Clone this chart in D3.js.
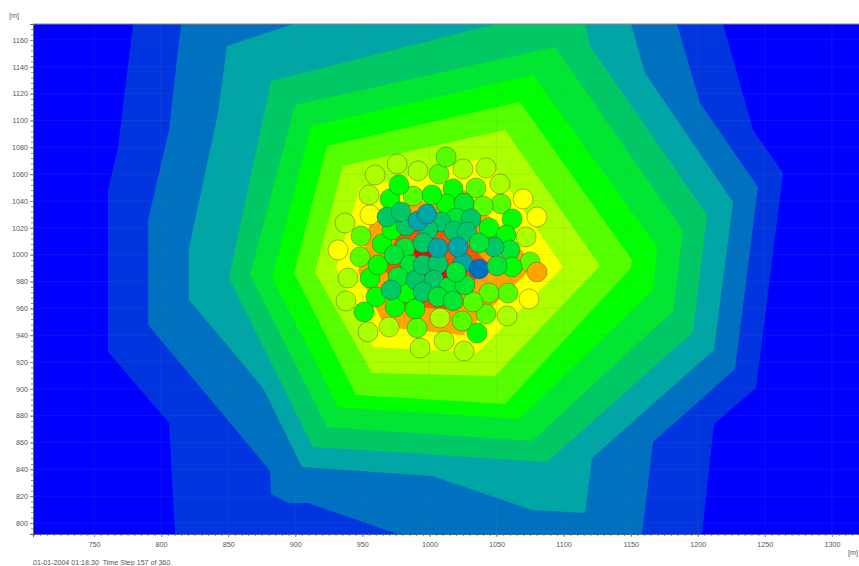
<!DOCTYPE html>
<html><head><meta charset="utf-8">
<script src="https://cdn.jsdelivr.net/npm/d3@7"></script>
<style>html,body{margin:0;padding:0;background:#fff}svg{display:block}text{font-family:"Liberation Sans",Arial,sans-serif}</style>
</head><body><div id="chart"></div>
<script>
const xTicks=[750,800,850,900,950,1000,1050,1100,1150,1200,1250,1300];
const yTicks=[800,820,840,860,880,900,920,940,960,980,1000,1020,1040,1060,1080,1100,1120,1140,1160];
const levelColors=["#0000ff","#0035e0","#0070c0","#00a5a5","#00c864","#00e632","#00ff00","#55ff00","#aaff00","#ffff00","#ffa500","#ff5500","#ff0000"];
const contour1=[[779.1,1171.9],[767.9,1080.3],[760.4,1048.2],[760.4,927.5],[805.9,874.6],[810.4,791.8],[1203.2,791.8],[1212.1,873.8],[1243.5,900.6],[1263.6,1060.9],[1241.2,1092.9],[1218.9,1171.9]];
const contour2=[[814.8,1171.9],[805.9,1092.9],[790.3,1025.8],[790.3,947.6],[881.2,838.8],[881.9,821.6],[894.6,814.9],[909.5,814.9],[975.9,791.8],[1158.5,791.8],[1166.7,860.4],[1227.8,914.8],[1244.9,1050.4],[1201.7,1113],[1184.6,1171.9]];
const contour3=[[898.3,1171.9],[849.1,1155.5],[842.4,1105.6],[820.8,1005],[820.8,966.2],[876,900.6],[905,841.8],[1001.9,835],[1076.5,809.7],[1116,807.5],[1121.2,848.5],[1212.1,929],[1226.3,1039.3],[1160.7,1135.4],[1150.3,1171.9]];
const contour4=[[1049.6,1171.9],[881.9,1129.4],[850.6,982.6],[913.2,856.7],[1087.7,845.5],[1196.5,942.4],[1206.9,1029.6],[1119.7,1155.5],[1116,1171.9]];
const contour5=[[899.8,1111.6],[866.3,984.9],[923.7,871.6],[1076.5,861.1],[1181.6,958],[1189,1017.6],[1093.6,1154.8]];
const contour6=[[911.8,1095.9],[882.7,983.4],[931.9,886.5],[1066.8,877.5],[1166.7,973.7],[1169.7,1005.7],[1077.2,1133.9]];
const contour7=[[923.7,1081],[899.1,986.3],[945.3,895.4],[1056.4,888.7],[1150.3,990.1],[1151,996],[1067.5,1113.8]];
const contour8=[[935.6,1066.1],[914.7,987.1],[957.2,911.8],[1048.9,909.6],[1127.2,991.6],[1056.4,1092.9]];
const contour9=[[948.3,1050.4],[930.4,990.1],[958,931.2],[1035.5,926.7],[1099.6,990.8],[1042.9,1072.1]];
const contour10=[[957.2,1029.6],[946.8,987.1],[966.9,946.1],[1025,940.1],[1078.7,992.3],[1026.5,1048.2]];
const contour11=[[978.1,1022.1],[966.9,988.6],[981.8,962.5],[1011.6,958.8],[1045.2,992.3],[1007.9,1029.6]];
const contour12=[[987,1003.5],[1000.5,977.4],[1015.4,981.1],[1013.9,992.3],[1000.5,1007.2]];
const contours=[contour1,contour2,contour3,contour4,contour5,contour6,contour7,contour8,contour9,contour10,contour11,contour12];
const wellX=[959.5,975.9,991.5,1007.2,1012.4,1025,1042.2,955,937.1,955.7,931.9,939.3,937.8,1052.6,1069.8,1080.2,1072,1075,1080.2,1074.2,1057.9,1058.6,1044.4,1042.2,1035.5,1024.3,1007.9,1010.9,1025.8,993,990.8,969.9,954.2,949,948.3,1032.5,1053.4,1034.7,1040,1017.6,1012.4,1025.8,987.8,1001.9,970.6,977.3,1061.6,1044.4,1057.1,1060.1,1048.2,951.3,960.2,955.7,961.7,964.7,974.4,983.3,989.3,972.1,981.8,973.6,985.5,976.6,971.4,990,995.2,1006.4,1003.4,995.2,1014.6,1026.5,1006.4,1017.6,982.6,968.4,978.8,1019.8,1031,1008.7,999,995.2,1018.3,1028,1025,1006.4,1021.3,991.5,998.2,1037,1019.8,1037,1061.6,1050.4];
const wellY=[1059.4,1067.6,1062.4,1060.1,1072.8,1063.9,1064.6,1044.5,1023.6,1029.6,1003.5,982.6,965.5,1052.7,1041.5,1028.1,1013.2,994.5,987.1,967,954.3,971.4,971.4,955.8,941.6,950.6,952.8,935.7,928.2,930.4,945.4,946.1,942.4,1013.9,998.3,964.7,1037.8,1049.7,1036.3,1049,1037.8,1038.5,1043.7,1044.5,1041.5,1051.9,1026.6,1019.9,1014.7,1003.5,1005.7,957.3,968.5,982.6,992.3,1008,961,971.4,959.5,1018.4,1005,999.8,992.3,983.4,973.7,981.1,992.3,993.1,981.1,972.2,975.9,977.4,968.5,965.5,1021.4,1028.1,1031.8,1027.3,1026.6,1024.4,1018.4,1008.7,1017.6,1016.9,993.8,1005,1005.7,1025.1,1030.3,1008.7,987.1,989.3,990.8,991.6];
const wellLevel=[8,8,8,7,7,8,8,8,8,9,9,8,8,8,9,9,8,7,10,9,8,7,7,7,6,7,8,8,8,8,7,8,8,7,7,7,7,7,7,6,6,5,7,6,6,6,6,6,6,5,4,6,6,6,6,6,6,6,6,6,5,5,5,5,4,4,4,4,4,4,5,5,5,5,4,4,4,5,4,4,4,4,4,4,3,3,3,3,3,5,5,2,6,5];
const footer="01-01-2004 01:18:30  Time Step 157 of 360.";
const unit="[m]";

const W=859,H=566,L=33,R=859,T=24,B=534;
const x=d3.scaleLinear().domain([704.5,1320.2]).range([L,R]);
const y=d3.scaleLinear().domain([791.8,1171.9]).range([B,T]);
const svg=d3.select("#chart").append("svg").attr("width",W).attr("height",H);
svg.append("defs").append("clipPath").attr("id","plot").append("rect").attr("x",L).attr("y",T).attr("width",R-L).attr("height",B-T);
const plot=svg.append("g").attr("clip-path","url(#plot)");
plot.append("rect").attr("x",L).attr("y",T).attr("width",R-L).attr("height",B-T).attr("fill",levelColors[0]);
const line=d3.line().x(d=>x(d[0])).y(d=>y(d[1])).curve(d3.curveLinearClosed);
plot.selectAll("path.c").data(contours).join("path").attr("class","c").attr("d",line).attr("fill",(d,i)=>levelColors[i+1]);
const grid=plot.append("g").attr("stroke","rgba(128,128,128,0.13)").attr("stroke-width",1);
grid.selectAll("line.v").data(xTicks).join("line").attr("class","v").attr("x1",d=>x(d)).attr("x2",d=>x(d)).attr("y1",T).attr("y2",B);
grid.selectAll("line.h").data(yTicks).join("line").attr("class","h").attr("y1",d=>y(d)).attr("y2",d=>y(d)).attr("x1",L).attr("x2",R);
plot.selectAll("circle").data(wellX.map((v,i)=>({x:v,y:wellY[i],l:wellLevel[i]}))).join("circle")
 .attr("cx",d=>x(d.x)).attr("cy",d=>y(d.y)).attr("r",10)
 .attr("fill",d=>levelColors[d.l]).attr("stroke","rgba(50,50,30,0.36)").attr("stroke-width",1);

const xMinor=d3.range(705,1321,5), yMinor=d3.range(792,1172,4);
const bx=svg.append("g").attr("transform",`translate(0,${B})`);
bx.call(d3.axisBottom(x).tickValues(xMinor).tickSize(2).tickFormat(""));
const lx=svg.append("g").attr("transform",`translate(${L},0)`);
lx.call(d3.axisLeft(y).tickValues(yMinor).tickSize(2).tickFormat(""));
const bx2=svg.append("g").attr("transform",`translate(0,${B})`);
bx2.call(d3.axisBottom(x).tickValues(xTicks).tickSize(3).tickPadding(5).tickFormat(d3.format("d")));
const lx2=svg.append("g").attr("transform",`translate(${L},0)`);
lx2.call(d3.axisLeft(y).tickValues(yTicks).tickSize(3).tickPadding(2).tickFormat(d3.format("d")));
svg.selectAll(".domain").attr("stroke","#666").attr("stroke-width",1);
svg.selectAll(".tick line").attr("stroke","#888");
svg.selectAll(".tick text").attr("font-size",7.2).attr("fill","#555").attr("font-family","Liberation Sans");
svg.append("line").attr("x1",L).attr("x2",R).attr("y1",T).attr("y2",T).attr("stroke","#888");
svg.append("text").attr("x",9).attr("y",18).attr("font-size",7.2).attr("fill","#555").text(unit);
svg.append("text").attr("x",848).attr("y",555).attr("font-size",7.2).attr("fill","#555").text(unit);
svg.append("text").attr("x",33).attr("y",565).attr("font-size",7.1).attr("fill","#555").style("white-space","pre").text(footer);
</script></body></html>
